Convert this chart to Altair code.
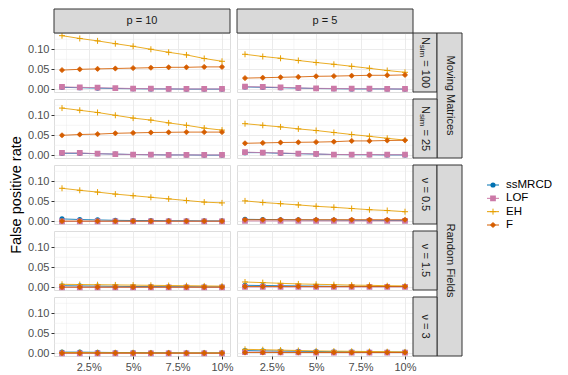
import altair as alt
import pandas as pd

# ---------------- data ----------------
contamination = [0.01, 0.02, 0.03, 0.04, 0.05, 0.06, 0.07, 0.08, 0.09, 0.10]
methods = ["ssMRCD", "LOF", "EH", "F"]
method_colors = ["#0072B2", "#CC79A7", "#E69F00", "#D55E00"]

col_labels = ["p = 10", "p = 5"]
group_labels = ["Moving Matrices", "Random Fields"]
nu_labels = ["ν = 0.5", "ν = 1.5", "ν = 3"]
nsim_values = ["= 100", "= 25"]

x_ticks = [0.025, 0.05, 0.075, 0.10]
x_minor = [0.0125, 0.0375, 0.0625, 0.0875]
y_ticks = [0.0, 0.05, 0.10]
y_minor = [0.025, 0.075, 0.125]

# p = 10, N_sim = 100
p10_n100_ssmrcd = [0.005, 0.004, 0.003, 0.002, 0.0015, 0.001, 0.001, 0.0005, 0.0005, 0.0005]
p10_n100_lof = [0.006, 0.005, 0.004, 0.003, 0.002, 0.0015, 0.001, 0.001, 0.001, 0.001]
p10_n100_eh = [0.134, 0.127, 0.121, 0.114, 0.1075, 0.100, 0.0925, 0.086, 0.077, 0.070]
p10_n100_f = [0.048, 0.050, 0.051, 0.052, 0.053, 0.054, 0.055, 0.055, 0.056, 0.056]
# p = 5, N_sim = 100
p5_n100_ssmrcd = [0.006, 0.005, 0.004, 0.003, 0.002, 0.0015, 0.001, 0.001, 0.001, 0.0005]
p5_n100_lof = [0.0067, 0.006, 0.005, 0.0035, 0.0025, 0.002, 0.0015, 0.0015, 0.001, 0.001]
p5_n100_eh = [0.0875, 0.082, 0.0775, 0.072, 0.067, 0.0625, 0.0575, 0.0525, 0.047, 0.0425]
p5_n100_f = [0.028, 0.029, 0.030, 0.031, 0.0325, 0.033, 0.034, 0.035, 0.035, 0.036]
# p = 10, N_sim = 25
p10_n25_ssmrcd = [0.005, 0.005, 0.004, 0.003, 0.002, 0.0015, 0.001, 0.001, 0.0005, 0.0005]
p10_n25_lof = [0.006, 0.006, 0.004, 0.003, 0.002, 0.0015, 0.001, 0.001, 0.001, 0.001]
p10_n25_eh = [0.118, 0.1125, 0.107, 0.100, 0.093, 0.088, 0.081, 0.075, 0.068, 0.063]
p10_n25_f = [0.050, 0.052, 0.053, 0.055, 0.056, 0.057, 0.0575, 0.058, 0.058, 0.058]
# p = 5, N_sim = 25
p5_n25_ssmrcd = [0.0067, 0.0067, 0.005, 0.004, 0.003, 0.002, 0.0015, 0.0015, 0.001, 0.001]
p5_n25_lof = [0.008, 0.0067, 0.006, 0.0045, 0.0035, 0.002, 0.002, 0.002, 0.0015, 0.0015]
p5_n25_eh = [0.079, 0.075, 0.071, 0.066, 0.062, 0.057, 0.052, 0.0475, 0.0425, 0.038]
p5_n25_f = [0.030, 0.031, 0.032, 0.0325, 0.033, 0.034, 0.036, 0.036, 0.037, 0.0375]
# p = 10, nu = 0.5
p10_nu05_ssmrcd = [0.006, 0.0045, 0.0035, 0.0025, 0.002, 0.002, 0.0015, 0.0015, 0.001, 0.001]
p10_nu05_lof = [0.0, 0.0, 0.0, 0.0, 0.0, 0.0, 0.0, 0.0, 0.0, 0.0]
p10_nu05_eh = [0.0825, 0.0775, 0.073, 0.068, 0.064, 0.060, 0.056, 0.052, 0.048, 0.046]
p10_nu05_f = [0.0005, 0.0005, 0.0005, 0.0005, 0.0005, 0.0005, 0.0005, 0.0005, 0.0005, 0.0005]
# p = 5, nu = 0.5
p5_nu05_ssmrcd = [0.005, 0.0045, 0.004, 0.0035, 0.003, 0.003, 0.0025, 0.0025, 0.002, 0.002]
p5_nu05_lof = [0.001, 0.001, 0.001, 0.001, 0.001, 0.001, 0.001, 0.001, 0.001, 0.001]
p5_nu05_eh = [0.051, 0.047, 0.044, 0.041, 0.0375, 0.035, 0.032, 0.029, 0.027, 0.024]
p5_nu05_f = [0.004, 0.004, 0.004, 0.004, 0.004, 0.004, 0.004, 0.004, 0.004, 0.004]
# p = 10, nu = 1.5
p10_nu15_ssmrcd = [0.004, 0.0035, 0.003, 0.0025, 0.002, 0.002, 0.0015, 0.0015, 0.001, 0.001]
p10_nu15_lof = [0.0, 0.0, 0.0, 0.0, 0.0, 0.0, 0.0, 0.0, 0.0, 0.0]
p10_nu15_eh = [0.0075, 0.007, 0.0065, 0.006, 0.0055, 0.005, 0.0045, 0.004, 0.0035, 0.003]
p10_nu15_f = [0.0005, 0.0005, 0.0005, 0.0005, 0.0005, 0.0005, 0.0005, 0.0005, 0.0005, 0.0005]
# p = 5, nu = 1.5
p5_nu15_ssmrcd = [0.005, 0.0045, 0.004, 0.0035, 0.003, 0.0025, 0.0025, 0.002, 0.002, 0.002]
p5_nu15_lof = [0.001, 0.001, 0.001, 0.001, 0.001, 0.001, 0.001, 0.001, 0.001, 0.001]
p5_nu15_eh = [0.0133, 0.0117, 0.010, 0.0085, 0.0075, 0.0067, 0.0055, 0.005, 0.004, 0.0035]
p5_nu15_f = [0.002, 0.002, 0.002, 0.002, 0.002, 0.002, 0.002, 0.002, 0.002, 0.002]
# p = 10, nu = 3
p10_nu3_ssmrcd = [0.003, 0.003, 0.0025, 0.002, 0.002, 0.0015, 0.0015, 0.001, 0.001, 0.001]
p10_nu3_lof = [0.0, 0.0, 0.0, 0.0, 0.0, 0.0, 0.0, 0.0, 0.0, 0.0]
p10_nu3_eh = [0.002, 0.002, 0.0015, 0.0015, 0.0015, 0.001, 0.001, 0.001, 0.001, 0.001]
p10_nu3_f = [0.0005, 0.0005, 0.0005, 0.0005, 0.0005, 0.0005, 0.0005, 0.0005, 0.0005, 0.0005]
# p = 5, nu = 3
p5_nu3_ssmrcd = [0.007, 0.006, 0.0055, 0.005, 0.0045, 0.004, 0.0035, 0.003, 0.003, 0.003]
p5_nu3_lof = [0.003, 0.003, 0.0025, 0.0025, 0.002, 0.002, 0.002, 0.002, 0.002, 0.002]
p5_nu3_eh = [0.010, 0.009, 0.008, 0.007, 0.006, 0.0055, 0.005, 0.0045, 0.004, 0.0035]
p5_nu3_f = [0.002, 0.002, 0.002, 0.002, 0.002, 0.002, 0.002, 0.002, 0.002, 0.002]

panel_series = {
    (0, 0): [p10_n100_ssmrcd, p10_n100_lof, p10_n100_eh, p10_n100_f],
    (0, 1): [p5_n100_ssmrcd, p5_n100_lof, p5_n100_eh, p5_n100_f],
    (1, 0): [p10_n25_ssmrcd, p10_n25_lof, p10_n25_eh, p10_n25_f],
    (1, 1): [p5_n25_ssmrcd, p5_n25_lof, p5_n25_eh, p5_n25_f],
    (2, 0): [p10_nu05_ssmrcd, p10_nu05_lof, p10_nu05_eh, p10_nu05_f],
    (2, 1): [p5_nu05_ssmrcd, p5_nu05_lof, p5_nu05_eh, p5_nu05_f],
    (3, 0): [p10_nu15_ssmrcd, p10_nu15_lof, p10_nu15_eh, p10_nu15_f],
    (3, 1): [p5_nu15_ssmrcd, p5_nu15_lof, p5_nu15_eh, p5_nu15_f],
    (4, 0): [p10_nu3_ssmrcd, p10_nu3_lof, p10_nu3_eh, p10_nu3_f],
    (4, 1): [p5_nu3_ssmrcd, p5_nu3_lof, p5_nu3_eh, p5_nu3_f],
}

# ---------------- styling ----------------
FONT = "Liberation Sans"
GRID = "#EBEBEB"
DARK = "#333333"
STRIP = "#D9D9D9"
W, H = 176, 59
TH = 24      # top strip height
SW = 24      # row strip width
OW = 25      # outer strip width
GAP = 7

PLUS = "M-1,0L1,0M0,-1L0,1"
CIRCLE_PLUS = ("M-0.72,0A0.72,0.72 0 1,0 0.72,0A0.72,0.72 0 1,0 -0.72,0Z"
               "M-1,0L1,0M0,-1L0,1")
point_styles = {
    "ssMRCD": dict(shape="circle", filled=True, size=10),
    "LOF": dict(shape="square", filled=True, size=14),
    "EH": dict(shape=PLUS, filled=False, size=36, strokeWidth=1),
    "F": dict(shape=CIRCLE_PLUS, filled=True, size=30, strokeWidth=0.8),
}

x_scale = alt.Scale(domain=[0.0055, 0.1045], nice=False, zero=False)
y_scale = alt.Scale(domain=[-0.0067, 0.1407], nice=False, zero=False)


def series_frame(r, c, k):
    return pd.DataFrame({"x": contamination, "fpr": panel_series[(r, c)][k]})


def strip_text(df, x, y, angle=0, size=11, dx=0, dy=0, align="center"):
    return alt.Chart(df).mark_text(
        font=FONT, fontSize=size, color="#1A1A1A", angle=angle, dx=dx, dy=dy,
        align=align, baseline="middle"
    ).encode(text="label:N", x=alt.value(x), y=alt.value(y))


def strip_box(x0, x1, y0, y1):
    return alt.Chart(pd.DataFrame({"label": ["box"]})).mark_rect(
        fill=STRIP, stroke=DARK, strokeWidth=1
    ).encode(x=alt.value(x0), x2=alt.value(x1), y=alt.value(y0), y2=alt.value(y1))


def style_for(m, colr):
    st = dict(point_styles[m])
    if st["filled"]:
        st["fill"] = colr
    st["stroke"] = colr
    return st


def make_panel(r, c):
    show_x = r == 4
    show_y = c == 0
    x_axis = alt.Axis(values=x_ticks, format=".1~%", grid=True, gridColor=GRID,
                      gridWidth=1, domain=False, labels=show_x, ticks=show_x,
                      tickColor=DARK, tickSize=3, labelColor="#4D4D4D",
                      labelFontSize=11, labelFont=FONT, labelPadding=2, title=None)
    if r == 2 and c == 0:
        y_axis = alt.Axis(values=y_ticks, format=".2f", grid=True, gridColor=GRID,
                          gridWidth=1, domain=False, labels=show_y, ticks=show_y,
                          tickColor=DARK, tickSize=3, labelColor="#4D4D4D",
                          labelFontSize=11, labelFont=FONT, labelPadding=2,
                          title="False positive rate", titleFont=FONT,
                          titleFontSize=14.5, titleFontWeight="normal",
                          titleColor="#000000", titlePadding=4)
    else:
        y_axis = alt.Axis(values=y_ticks, format=".2f", grid=True, gridColor=GRID,
                          gridWidth=1, domain=False, labels=show_y, ticks=show_y,
                          tickColor=DARK, tickSize=3, labelColor="#4D4D4D",
                          labelFontSize=11, labelFont=FONT, labelPadding=2, title=None)
    X = alt.X("x:Q", scale=x_scale, axis=x_axis)
    Y = alt.Y("fpr:Q", scale=y_scale, axis=y_axis)

    layers = [
        alt.Chart(pd.DataFrame({"x": x_minor})).mark_rule(color=GRID, strokeWidth=0.5).encode(x=X),
        alt.Chart(pd.DataFrame({"fpr": y_minor})).mark_rule(color=GRID, strokeWidth=0.5).encode(y=Y),
    ]
    for k, (m, colr) in enumerate(zip(methods, method_colors)):
        df = series_frame(r, c, k)
        layers.append(alt.Chart(df).mark_line(color=colr, strokeWidth=1, opacity=0.85).encode(x=X, y=Y))
        layers.append(alt.Chart(df).mark_point(opacity=1, **style_for(m, colr)).encode(x=X, y=Y))

    # top strips
    if r == 0:
        layers.append(strip_box(0, W, -TH, 0))
        layers.append(strip_text(pd.DataFrame({"label": [col_labels[c]]}), W / 2, -TH / 2))
    # right strips
    if c == 1:
        layers.append(strip_box(W, W + SW, 0, H))
        cx = W + SW / 2
        if r < 2:
            if r == 0:
                offs = (-25.6, -17.7, -2.2)
            else:
                offs = (-22.6, -14.6, 0.9)
            layers.append(strip_text(pd.DataFrame({"label": ["N"]}), cx, H / 2, angle=90, dx=offs[0], align="left"))
            layers.append(strip_text(pd.DataFrame({"label": ["sim"]}), cx, H / 2, angle=90, size=8, dx=offs[1], dy=3, align="left"))
            layers.append(strip_text(pd.DataFrame({"label": [nsim_values[r]]}), cx, H / 2, angle=90, dx=offs[2], align="left"))
        else:
            layers.append(strip_text(pd.DataFrame({"label": [nu_labels[r - 2]]}), cx, H / 2, angle=90))
        if r == 0:
            hh = 2 * H + GAP
            layers.append(strip_box(W + SW, W + SW + OW, 0, hh))
            layers.append(strip_text(pd.DataFrame({"label": [group_labels[0]]}), W + SW + OW / 2, hh / 2, angle=90))
        if r == 2:
            hh = 3 * H + 2 * GAP
            layers.append(strip_box(W + SW, W + SW + OW, 0, hh))
            layers.append(strip_text(pd.DataFrame({"label": [group_labels[1]]}), W + SW + OW / 2, hh / 2, angle=90))
    return alt.layer(*layers).properties(width=W, height=H)


panels = [make_panel(r, c) for r in range(5) for c in range(2)]
grid = alt.concat(*panels, columns=2, spacing=GAP, bounds="flush")

# ---------------- legend ----------------
leg_y = alt.Y("method:N", scale=alt.Scale(type="point", domain=methods, range=[152, 192], padding=0), axis=None)
leg_layers = []
for m, colr in zip(methods, method_colors):
    dfm = pd.DataFrame({"method": [m]})
    leg_layers.append(alt.Chart(dfm).mark_rule(color=colr, strokeWidth=1).encode(
        x=alt.value(0), x2=alt.value(12), y=leg_y))
    leg_layers.append(alt.Chart(dfm).mark_point(opacity=1, **style_for(m, colr)).encode(x=alt.value(6), y=leg_y))
    leg_layers.append(alt.Chart(dfm).mark_text(font=FONT, fontSize=11.5, color="#000000",
                                               align="left", baseline="middle").encode(
        text="method:N", x=alt.value(19), y=leg_y))
legend = alt.layer(*leg_layers).properties(width=60, height=220,
                                           view=alt.ViewBackground(stroke="transparent"))

chart = alt.hconcat(grid, legend, spacing=23).properties(
    padding={"left": 0, "top": 0, "right": 4, "bottom": 4}
).configure_view(stroke=DARK, strokeWidth=1).configure(font=FONT)

chart.save("out.html", embed_options={"renderer": "svg", "actions": False})
